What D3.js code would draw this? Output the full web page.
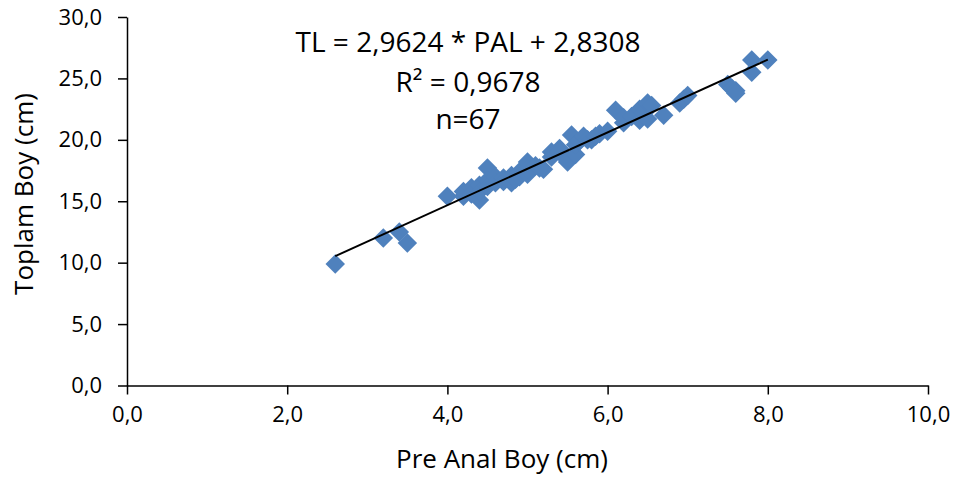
<!DOCTYPE html>
<html>
<head>
<meta charset="utf-8">
<script src="https://cdn.jsdelivr.net/npm/d3@7"></script>
<style>
  body { margin: 0; background: #fff; }
  text { font-family: "Open Sans", "Noto Sans", sans-serif; fill: #000; }
</style>
</head>
<body>
<svg id="chart" width="956" height="477"></svg>
<script>
// Pre anal length (cm) vs total length (cm)
var pal = [2.6, 3.2, 3.4, 3.5, 4.0, 4.2, 4.2, 4.3, 4.3, 4.4, 4.4, 4.4, 4.5, 4.5, 4.5,
    4.6, 4.6, 4.7, 4.7, 4.8, 4.8, 4.85, 4.9, 4.9, 5.0, 5.0, 5.0, 5.1, 5.15, 5.2,
    5.3, 5.3, 5.4, 5.4, 5.5, 5.5, 5.55, 5.6, 5.6, 5.65, 5.7, 5.75, 5.8, 5.85, 5.9,
    6.0, 6.1, 6.2, 6.2, 6.3, 6.4, 6.4, 6.45, 6.5, 6.5, 6.55, 6.7, 6.9, 6.95, 7.0,
    7.5, 7.55, 7.6, 7.6, 7.8, 7.8, 8.0];
var tl = [9.9, 12.0, 12.5, 11.6, 15.4, 15.4, 15.8, 16.1, 15.6, 15.1, 16.3, 15.8, 17.7, 16.7, 16.2,
    17.0, 16.5, 16.9, 16.6, 16.5, 17.1, 16.8, 17.4, 17.0, 18.2, 17.2, 17.6, 17.9, 17.7, 17.6,
    19.0, 18.6, 19.3, 19.0, 18.4, 18.2, 20.4, 18.8, 19.6, 19.9, 20.3, 20.0, 20.0, 20.3, 20.5,
    20.7, 22.4, 21.4, 21.8, 21.9, 22.5, 21.6, 22.2, 23.0, 21.7, 22.8, 22.0, 23.0, 23.3, 23.6,
    24.5, 24.2, 24.0, 23.8, 26.5, 25.5, 26.5];

// trend line given on the chart
var slope = 2.9624, intercept = 2.8308;
var labels = ['TL = 2,9624 * PAL + 2,8308', 'R\u00b2 = 0,9678', 'n=67'];

var xTicks = [0, 2, 4, 6, 8, 10];
var yTicks = [0, 5, 10, 15, 20, 25, 30];

var points = pal.map(function (d, i) { return { x: d, y: tl[i] }; });

var svg = d3.select('#chart');
var x = d3.scaleLinear().domain([0, 10]).range([127, 928]);
var y = d3.scaleLinear().domain([0, 30]).range([385.5, 17]);

var loc = d3.formatLocale({ decimal: ',', thousands: '.', grouping: [3], currency: ['', ''] });
var fmt = loc.format('.1f');

// axes
var gx = svg.append('g').attr('transform', 'translate(0,' + y(0) + ')')
    .call(d3.axisBottom(x).tickValues(xTicks).tickFormat(fmt).tickSize(9).tickSizeOuter(0).tickPadding(12));
var gy = svg.append('g').attr('transform', 'translate(' + x(0) + ',0)')
    .call(d3.axisLeft(y).tickValues(yTicks).tickFormat(fmt).tickSize(9).tickSizeOuter(0).tickPadding(16));

[gx, gy].forEach(function (g) {
    g.attr('font-size', null).attr('font-family', null);
    g.select('.domain').attr('stroke', '#000').attr('stroke-width', 1.5);
    g.selectAll('.tick line').attr('stroke', '#000').attr('stroke-width', 1.5);
    g.selectAll('.tick text').style('font-size', '22px').style('font-family', '"Open Sans", sans-serif').attr('fill', '#000');
});

// markers
svg.append('g').selectAll('path').data(points).join('path')
    .attr('d', d3.symbol().type(d3.symbolSquare).size(190))
    .attr('transform', function (d) { return 'translate(' + x(d.x) + ',' + y(d.y) + ') rotate(45)'; })
    .attr('fill', '#4F81BD');

// trend line
var xMin = d3.min(pal), xMax = d3.max(pal);
svg.append('line')
    .attr('x1', x(xMin)).attr('y1', y(slope * xMin + intercept))
    .attr('x2', x(xMax)).attr('y2', y(slope * xMax + intercept))
    .attr('stroke', '#000').attr('stroke-width', 2);

// equation label
svg.append('g').selectAll('text').data(labels).join('text')
    .attr('x', 468).attr('y', function (d, i) { return [52, 92, 129][i]; })
    .attr('text-anchor', 'middle').style('font-size', '28px')
    .text(function (d) { return d; });

// axis titles
svg.append('text').attr('x', 502).attr('y', 468).attr('text-anchor', 'middle')
    .style('font-size', '26px').text('Pre Anal Boy (cm)');
svg.append('text').attr('transform', 'translate(33,194) rotate(-90)').attr('text-anchor', 'middle')
    .style('font-size', '26px').text('Toplam Boy (cm)');
</script>
</body>
</html>
